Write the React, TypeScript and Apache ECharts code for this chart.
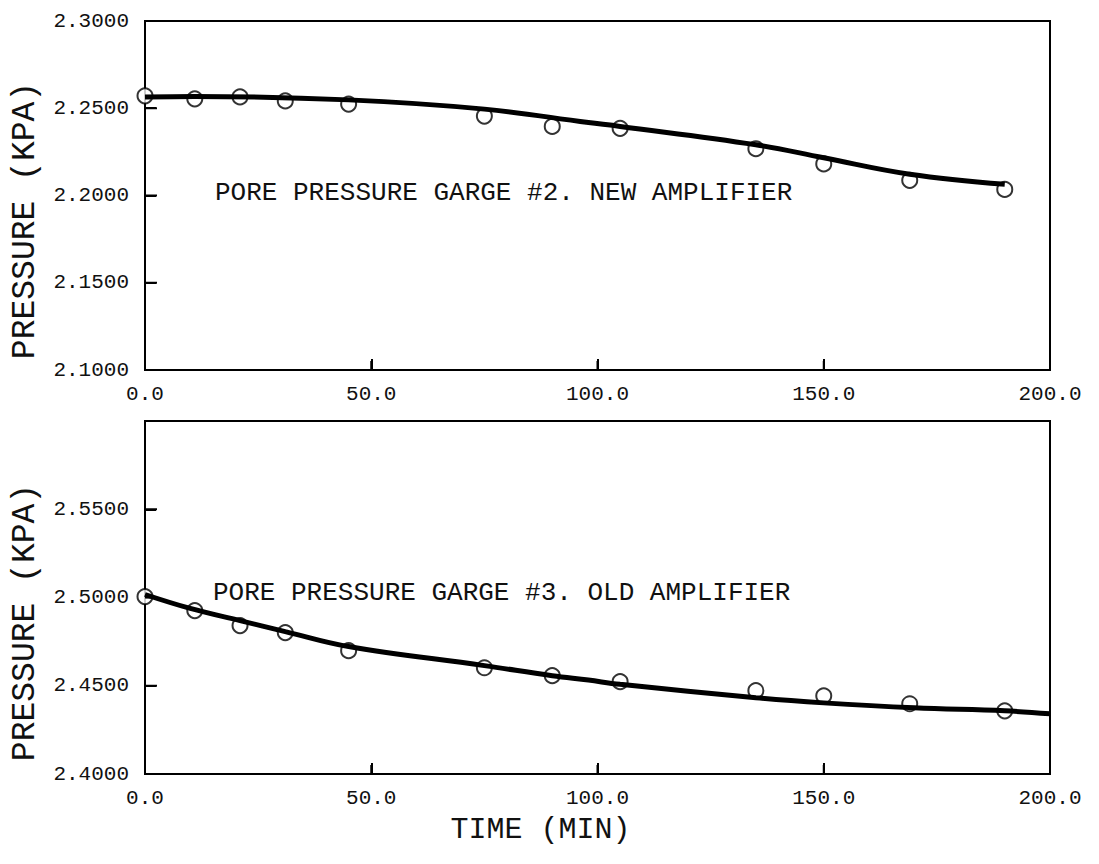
import React, { useEffect, useRef } from "react";
import * as echarts from "echarts";

// ---- data ----
const xMin = 0;
const xMax = 200;
const xStep = 50;
const xInnerTicks = [50, 100, 150];

const sampleTimes = [0, 11, 21, 31, 45, 75, 90, 105, 135, 150, 169, 190];

// Gauge #2 (new amplifier)
const gauge2Measured = [2.2571, 2.2554, 2.2565, 2.2542, 2.2524, 2.2455, 2.2396, 2.2385, 2.2268, 2.2181, 2.2087, 2.2035];
const gauge2FitTimes = [0, 11, 45, 75, 98, 105, 135, 150, 169, 190];
const gauge2Fit = [2.2565, 2.2568, 2.2548, 2.2495, 2.2418, 2.2396, 2.2291, 2.2216, 2.2122, 2.2064];

// Gauge #3 (old amplifier)
const gauge3Measured = [2.5005, 2.4926, 2.4841, 2.4801, 2.4699, 2.4602, 2.4557, 2.4523, 2.4472, 2.4443, 2.4398, 2.4358];
const gauge3FitTimes = [0, 10, 21, 31, 45, 75, 90, 98, 105, 135, 150, 170, 190, 200];
const gauge3Fit = [2.5017, 2.4938, 2.4869, 2.4807, 2.4722, 2.4614, 2.4557, 2.4532, 2.4508, 2.4432, 2.4403, 2.4375, 2.4358, 2.4341];

const topYRange = [2.1, 2.3];
const bottomYRange = [2.4, 2.6];
const yStep = 0.05;
const topYInnerTicks = [2.15, 2.2, 2.25];
const bottomYInnerTicks = [2.45, 2.5, 2.55];

const topNote = "PORE PRESSURE GARGE #2. NEW AMPLIFIER";
const bottomNote = "PORE PRESSURE GARGE #3. OLD AMPLIFIER";
const yName = "PRESSURE (KPA)";
const xName = "TIME (MIN)";

const zip = (xs: number[], ys: number[]) => xs.map((x, i) => [x, ys[i]]);

const FONT = "Liberation Mono";
const INK = "#111";

export default function App() {
  const ref = useRef<HTMLDivElement>(null);

  useEffect(() => {
    if (!ref.current) return;
    const chart = echarts.init(ref.current, undefined, { renderer: "svg" });

    const gridTop = { left: 145, top: 21, width: 905, height: 349 };
    const gridBottom = { left: 145, top: 421, width: 905, height: 353 };

    const tickStyle = { show: true, inside: true, length: 11, lineStyle: { color: "#000", width: 2 } };

    const xAxisBase = (gridIndex: number, withName: boolean) => ({
      type: "value" as const,
      gridIndex,
      min: xMin,
      max: xMax,
      interval: xStep,
      axisLine: { show: true, onZero: false, lineStyle: { color: "#000", width: 2 } },
      axisTick: tickStyle,
      splitLine: { show: false },
      axisLabel: {
        margin: 14,
        fontFamily: FONT,
        fontSize: 21,
        color: INK,
        formatter: (v: number) => v.toFixed(1),
      },
      name: withName ? xName : "",
      nameLocation: "middle" as const,
      nameGap: 41,
      nameTextStyle: { fontFamily: FONT, fontSize: 30, color: INK, padding: [0, 114, 0, 0] },
    });

    const yAxisBase = (gridIndex: number, range: number[], showMax: boolean) => ({
      type: "value" as const,
      gridIndex,
      min: range[0],
      max: range[1],
      interval: yStep,
      axisLine: { show: true, onZero: false, lineStyle: { color: "#000", width: 2 } },
      axisTick: tickStyle,
      splitLine: { show: false },
      axisLabel: {
        margin: 16,
        fontFamily: FONT,
        fontSize: 21,
        color: INK,
        showMaxLabel: showMax,
        formatter: (v: number) => v.toFixed(4),
      },
      name: yName,
      nameLocation: "middle" as const,
      nameRotate: 90,
      nameGap: 103,
      nameTextStyle: { fontFamily: FONT, fontSize: 33, color: INK, padding: [0, 50, 0, 0] },
    });

    const scatter = (idx: number, data: number[][]) => ({
      type: "scatter" as const,
      xAxisIndex: idx,
      yAxisIndex: idx,
      data,
      symbol: "circle",
      symbolSize: 15,
      itemStyle: { color: "#fff", borderColor: "#000", borderWidth: 2 },
      z: 3,
    });

    const fit = (idx: number, data: number[][]) => ({
      type: "line" as const,
      xAxisIndex: idx,
      yAxisIndex: idx,
      data,
      smooth: 0.4,
      clip: false,
      showSymbol: false,
      symbol: "none",
      lineStyle: { color: "#000", width: 5 },
      z: 4,
    });

    // inside tick marks drawn through the axis scales (kind 0 = y tick, 1 = x tick)
    const tickData = (yTicks: number[], yMin: number) => [
      ...yTicks.map((v) => [xMin, v, 0]),
      ...xInnerTicks.map((t) => [t, yMin, 1]),
    ];

    const ticks = (idx: number, data: number[][]) => ({
      type: "custom" as const,
      xAxisIndex: idx,
      yAxisIndex: idx,
      data,
      silent: true,
      z: 10,
      encode: { x: 0, y: 1 },
      renderItem: (_params: any, api: any) => {
        const p = api.coord([api.value(0), api.value(1)]);
        const kind = api.value(2);
        const shape =
          kind === 0
            ? { x1: p[0], y1: p[1], x2: p[0] + 12, y2: p[1] }
            : { x1: p[0], y1: p[1], x2: p[0], y2: p[1] - 9 };
        return { type: "line", shape, style: { stroke: "#000", lineWidth: 2 } };
      },
    });

    const noteStyle = { fontFamily: FONT, fontSize: 26, fontWeight: "normal" as const, color: INK };

    chart.setOption({
      animation: false,
      backgroundColor: "#fff",
      title: [
        { text: topNote, left: 215, top: 180, padding: 0, textStyle: noteStyle },
        { text: bottomNote, left: 213, top: 580, padding: 0, textStyle: noteStyle },
      ],
      grid: [
        { ...gridTop, show: true, borderColor: "#000", borderWidth: 2 },
        { ...gridBottom, show: true, borderColor: "#000", borderWidth: 2 },
      ],
      xAxis: [xAxisBase(0, false), xAxisBase(1, true)],
      yAxis: [yAxisBase(0, topYRange, true), yAxisBase(1, bottomYRange, false)],
      series: [
        scatter(0, zip(sampleTimes, gauge2Measured)),
        scatter(1, zip(sampleTimes, gauge3Measured)),
        fit(0, zip(gauge2FitTimes, gauge2Fit)),
        fit(1, zip(gauge3FitTimes, gauge3Fit)),
        ticks(0, tickData(topYInnerTicks, topYRange[0])),
        ticks(1, tickData(bottomYInnerTicks, bottomYRange[0])),
      ],
    });

    return () => chart.dispose();
  }, []);

  return <div ref={ref} style={{ position: "fixed", left: 0, top: 0, width: 1099, height: 864 }} />;
}
